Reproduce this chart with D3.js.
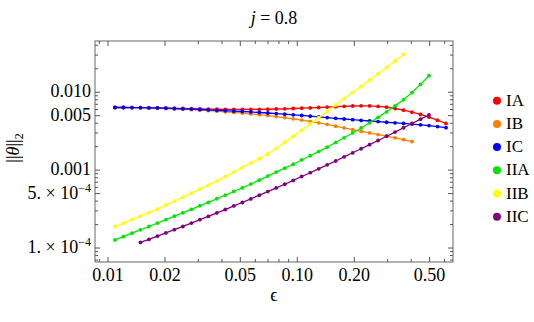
<!DOCTYPE html>
<html>
<head>
<meta charset="utf-8">
<script src="https://cdn.jsdelivr.net/npm/d3@7"></script>
<style>
  body { margin: 0; background: #fff; }
  svg { display: block; font-family: "Liberation Serif", "DejaVu Serif", serif; }
  .tick-label { font-size: 18px; fill: #000; }
</style>
</head>
<body>
<svg id="chart" width="534" height="322"></svg>
<script>
// epsilon grid shared by all series (each series uses a run of it)
var epsGrid = [0.01089, 0.01207, 0.01338, 0.01484, 0.01645, 0.01824, 0.02023, 0.02243, 0.02487, 0.02758,
  0.03058, 0.03390, 0.03758, 0.04167, 0.04621, 0.05124, 0.05681, 0.06299, 0.06984, 0.07743,
  0.08586, 0.09519, 0.1055, 0.1170, 0.1297, 0.1438, 0.1595, 0.1768, 0.1961, 0.2174,
  0.2410, 0.2672, 0.2963, 0.3285, 0.3642, 0.4038, 0.4477, 0.4964, 0.5504, 0.6103];

// ||theta||_2 values, in units of 1e-3
var valsIA = [6.37, 6.37, 6.35, 6.33, 6.31, 6.29, 6.26, 6.22, 6.18, 6.14, 6.11, 6.07, 6.05, 6.04, 6.02, 6.02, 6.02, 6.04, 6.05, 6.09,
  6.13, 6.18, 6.24, 6.29, 6.37, 6.44, 6.52, 6.60, 6.66, 6.69, 6.68, 6.58, 6.42, 6.18, 5.88, 5.54, 5.18, 4.78, 4.38, 3.97];
var valsIB = [6.37, 6.37, 6.35, 6.33, 6.29, 6.24, 6.18, 6.11, 6.04, 5.97, 5.88, 5.79, 5.71, 5.61, 5.51, 5.40, 5.27, 5.15, 5.01, 4.87,
  4.73, 4.56, 4.39, 4.22, 4.05, 3.87, 3.67, 3.48, 3.31, 3.14, 3.00, 2.86, 2.73, 2.60, 2.47, 2.33];
var valsIC = [6.37, 6.37, 6.35, 6.33, 6.31, 6.27, 6.24, 6.18, 6.13, 6.07, 6.00, 5.93, 5.86, 5.79, 5.72, 5.66, 5.58, 5.49, 5.41, 5.32,
  5.22, 5.13, 5.03, 4.92, 4.82, 4.73, 4.63, 4.53, 4.44, 4.35, 4.27, 4.20, 4.12, 4.05, 3.98, 3.90, 3.82, 3.73, 3.62, 3.51];
var valsIIA = [0.127, 0.140, 0.155, 0.171, 0.189, 0.209, 0.231, 0.256, 0.283, 0.313, 0.348, 0.385, 0.429, 0.477, 0.532, 0.593, 0.663, 0.744, 0.838, 0.943,
  1.06, 1.19, 1.35, 1.53, 1.73, 1.97, 2.26, 2.60, 3.00, 3.48, 4.05, 4.75, 5.61, 6.68, 8.01, 9.91, 12.6, 16.3];
var valsIIB = [0.189, 0.209, 0.232, 0.257, 0.285, 0.316, 0.356, 0.401, 0.451, 0.507, 0.571, 0.642, 0.723, 0.825, 0.943, 1.08, 1.23, 1.40, 1.61, 1.90,
  2.27, 2.71, 3.26, 3.91, 4.71, 5.67, 6.85, 8.28, 9.94, 11.9, 14.3, 17.3, 20.8, 25.2, 30.7];
var valsIIC = [0.118, 0.129, 0.142, 0.156, 0.172, 0.189, 0.209, 0.231, 0.255, 0.282, 0.312, 0.347, 0.384, 0.427, 0.477, 0.530, 0.591, 0.659, 0.738, 0.828,
  0.926, 1.04, 1.17, 1.31, 1.48, 1.67, 1.88, 2.12, 2.40, 2.72, 3.08, 3.50, 3.97, 4.51, 5.13];

var seriesNames = ["IA", "IB", "IC", "IIA", "IIB", "IIC"];
var seriesColors = ["#ff0000", "#ff8000", "#0000ff", "#00e600", "#ffff00", "#800080"];
var seriesStart = [0, 0, 0, 0, 0, 3];   // first index into epsGrid
var seriesVals = [valsIA, valsIB, valsIC, valsIIA, valsIIB, valsIIC];

// tick labels
var xTicks = [0.01, 0.02, 0.05, 0.1, 0.2, 0.5];
var xTickLabels = ["0.01", "0.02", "0.05", "0.10", "0.20", "0.50"];
var yTicks = [1e-4, 5e-4, 1e-3, 5e-3, 1e-2];
var yTickLabels = [["1. \u00d7 10", "\u22124"], ["5. \u00d7 10", "\u22124"], ["0.001"], ["0.005"], ["0.010"]];

var svg = d3.select("#chart");
var plotLeft = 95, plotRight = 453, plotTop = 41, plotBottom = 262;

var x = d3.scaleLog().domain([0.008538, 0.6645]).range([plotLeft, plotRight]);
var y = d3.scaleLog().domain([6.614e-5, 0.04547]).range([plotBottom, plotTop]);

// minor ticks 2..9 per decade
function minors(lo, hi) {
  var out = [];
  for (var p = -6; p <= 1; p++) {
    for (var m = 1; m <= 9; m++) {
      var v = m * Math.pow(10, p);
      if (v >= lo && v <= hi) out.push(v);
    }
  }
  return out;
}
var xMinor = minors(x.domain()[0], x.domain()[1]).filter(v => !xTicks.some(t => Math.abs(t - v) / t < 1e-6));
var yMinor = minors(y.domain()[0], y.domain()[1]).filter(v => !yTicks.some(t => Math.abs(t - v) / t < 1e-6));

var tickColor = "#555";
var g = svg.append("g");

// frame
g.append("rect").attr("x", plotLeft).attr("y", plotTop)
  .attr("width", plotRight - plotLeft).attr("height", plotBottom - plotTop)
  .attr("fill", "none").attr("stroke", "#666").attr("stroke-width", 1);

// x ticks (bottom + top, inward)
function drawXTicks(vals, len) {
  vals.forEach(v => {
    var px = x(v);
    g.append("line").attr("x1", px).attr("x2", px).attr("y1", plotBottom).attr("y2", plotBottom - len).attr("stroke", tickColor);
    g.append("line").attr("x1", px).attr("x2", px).attr("y1", plotTop).attr("y2", plotTop + len).attr("stroke", tickColor);
  });
}
drawXTicks(xTicks, 5);
drawXTicks(xMinor, 3);

function drawYTicks(vals, len) {
  vals.forEach(v => {
    var py = y(v);
    g.append("line").attr("x1", plotLeft).attr("x2", plotLeft + len).attr("y1", py).attr("y2", py).attr("stroke", tickColor);
    g.append("line").attr("x1", plotRight).attr("x2", plotRight - len).attr("y1", py).attr("y2", py).attr("stroke", tickColor);
  });
}
drawYTicks(yTicks, 5);
drawYTicks(yMinor, 3);

// x tick labels
xTicks.forEach((v, i) => {
  g.append("text").attr("class", "tick-label").attr("x", x(v)).attr("y", plotBottom + 19)
    .attr("text-anchor", "middle").text(xTickLabels[i]);
});

// y tick labels
yTicks.forEach((v, i) => {
  var t = g.append("text").attr("class", "tick-label").attr("x", plotLeft - 4).attr("y", y(v) + 5)
    .attr("text-anchor", "end");
  var lab = yTickLabels[i];
  t.append("tspan").text(lab[0]);
  if (lab.length > 1) {
    t.append("tspan").attr("dy", -7).attr("font-size", 12).text(lab[1]);
  }
});

// series
var line = d3.line().x(d => x(d[0])).y(d => y(d[1]));
var plot = svg.append("g");
seriesNames.forEach((name, k) => {
  var pts = seriesVals[k].map((v, i) => [epsGrid[seriesStart[k] + i], v * 1e-3]);
  plot.append("path").datum(pts).attr("d", line).attr("fill", "none")
    .attr("stroke", seriesColors[k]).attr("stroke-width", 1.3);
  plot.selectAll("circle.s" + k).data(pts).enter().append("circle")
    .attr("class", "s" + k)
    .attr("cx", d => x(d[0])).attr("cy", d => y(d[1])).attr("r", 1.9)
    .attr("fill", seriesColors[k]);
});

// title
var title = svg.append("text").attr("x", 274).attr("y", 24).attr("text-anchor", "middle")
  .attr("font-size", 18);
title.append("tspan").attr("font-style", "italic").text("j");
title.append("tspan").text(" = 0.8");

// x label
svg.append("text").attr("x", 274).attr("y", 301).attr("text-anchor", "middle")
  .attr("font-size", 18).text("\u03f5");

// y label
var yl = svg.append("text").attr("transform", "translate(19,148) rotate(-90)")
  .attr("text-anchor", "middle").attr("font-size", 18);
yl.append("tspan").text("||");
yl.append("tspan").attr("font-style", "italic").text("\u03b8");
yl.append("tspan").text("||");
yl.append("tspan").attr("font-size", 12).attr("dy", 4).text("2");

// legend
var legend = svg.append("g");
seriesNames.forEach((name, k) => {
  var ly = 100.7 + k * 23.2;
  legend.append("circle").attr("cx", 497).attr("cy", ly).attr("r", 4).attr("fill", seriesColors[k]);
  legend.append("text").attr("x", 506).attr("y", ly + 5).attr("font-size", 17).text(name);
});
</script>
</body>
</html>
